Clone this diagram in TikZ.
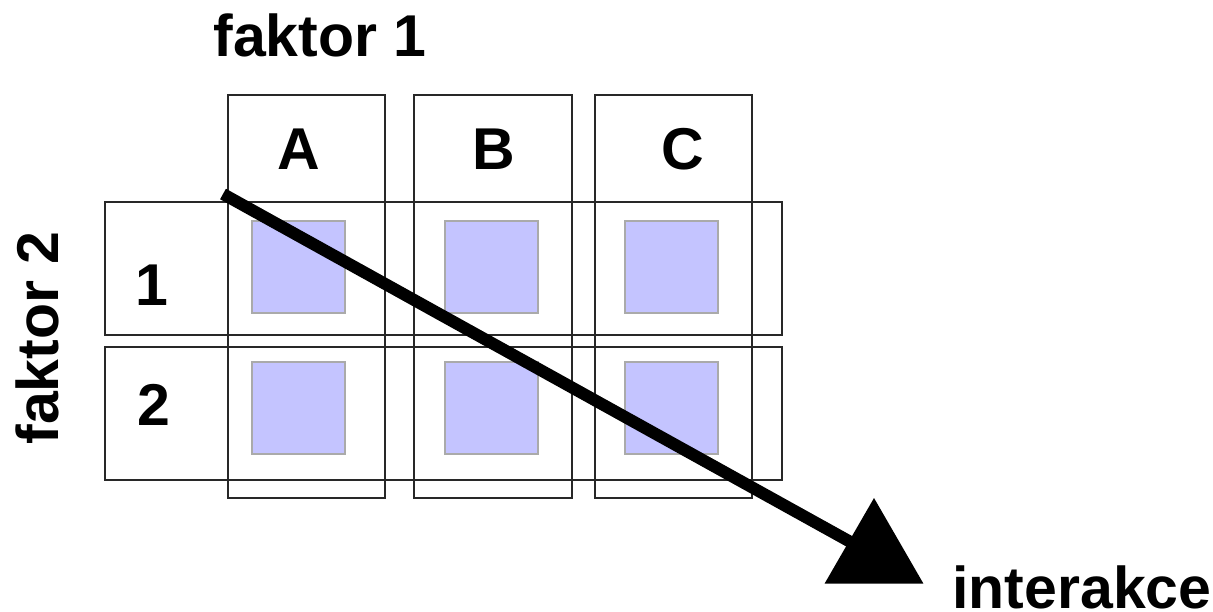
\documentclass[tikz,border=0pt]{standalone}
\usepackage{fontspec}
\setmainfont{Liberation Sans}
\usetikzlibrary{shapes.geometric}

\begin{document}
\begin{tikzpicture}[x=0.5pt,y=-0.5pt]
				% 颜色列表
				\definecolor{mybox}{RGB}{196,196,255}
				\definecolor{myedge}{RGB}{170,170,170}
				\definecolor{myline}{RGB}{40,40,40}
				\tikzset{lbl/.style={font=\bfseries\fontsize{29.5}{35}\selectfont,inner sep=0pt}}
				\useasboundingbox (0,0) rectangle (1213,611);
				
				% 列框(faktor 1)
				\foreach \a/\b in {228/385,414/572,595/752}
				\draw[myline,line width=0.75pt] (\a,95) rectangle (\b,498);
				
				% 行框(faktor 2)
				\foreach \a/\b in {202/335,347/480}
				\draw[myline,line width=0.75pt] (105,\a) rectangle (782,\b);
				
				% 单元格(浅蓝色)
				\foreach \x in {252,445,625}
				\foreach \y in {221,362}
				\filldraw[fill=mybox,draw=myedge,line width=0.6pt] (\x,\y) rectangle ++(93,92);
				
				% 标签
				\node[lbl,anchor=base west] (f1) at (213,56) {faktor 1};
				\node[lbl,anchor=base west,rotate=90] (f2) at (58,445) {faktor 2};
				\foreach \t/\x in {A/299,B/494,C/683}
				\node[lbl] (col\t) at (\x,149) {\t};
				\node[lbl] (row1) at (152,285) {1};
				\node[lbl] (row2) at (154,405) {2};
				
				% 箭头(interakce)
				\node[regular polygon,regular polygon sides=3,fill=black,minimum size=57pt,inner sep=0pt] (tip) at (874,555) {};
				\coordinate (start) at (223,194);
				\draw[line width=6pt] (start) -- (tip.center);
				\node[lbl,anchor=base west] (inter) at (952,608) {interakce};
				
\end{tikzpicture}
\end{document}
